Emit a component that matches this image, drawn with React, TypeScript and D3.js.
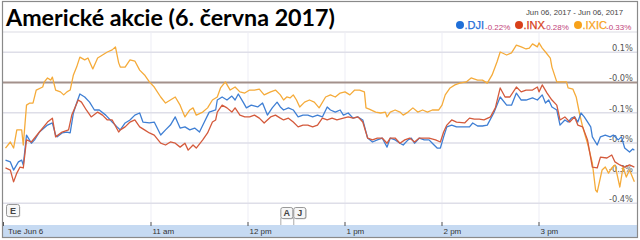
import React from "react";
import * as d3 from "d3";

const title = "Americké akcie (6. června 2017)";
const dateRange = "Jun 06, 2017  -  Jun 06, 2017";
const seriesNames = [".DJI", ".INX", ".IXIC"];
const seriesChanges = ["-0.22%", "-0.28%", "-0.33%"];
const yTicks = [0.1, 0, -0.1, -0.2, -0.3, -0.4];
const yTickLabels = ["0.1%", "-0.0%", "-0.1%", "-0.2%", "-0.3%", "-0.4%"];
const xTickMinutes = [0, 90, 150, 210, 270, 330];
const xTickLabels = ["Tue Jun 6", "11 am", "12 pm", "1 pm", "2 pm", "3 pm"];
const flagMinutes = [0, 170, 178];
const flagLabels = ["E", "A", "J"];

// [minutes since 9:30, % change]
const ixic: [number, number][] = [
  [0,-0.217],[3,-0.197],[5,-0.217],[7,-0.157],[10,-0.157],[11,-0.207],[13,-0.075],[15,-0.068],[17,-0.068],[19,-0.025],
  [23,-0.015],[24,0.002],[26,0.015],[28,0.008],[29,0.018],[31,-0.025],[34,-0.031],[36,-0.041],[38,-0.031],[40,-0.025],
  [42,0.025],[44,0.051],[46,0.084],[49,0.075],[51,0.081],[54,0.045],[57,0.081],[63,0.101],[66,0.108],[68,0.118],
  [70,0.065],[71,0.051],[74,0.051],[77,0.075],[80,0.071],[83,0.041],[86,0.025],[89,0.002],[92,-0.015],[96,-0.048],
  [99,-0.068],[102,-0.058],[105,-0.048],[108,-0.075],[111,-0.114],[114,-0.091],[116,-0.084],[118,-0.108],[122,-0.098],[125,-0.084],
  [128,-0.058],[131,-0.048],[133,-0.018],[136,0.002],[139,-0.025],[142,-0.015],[145,-0.031],[148,-0.035],[151,-0.025],[154,-0.025],
  [157,-0.022],[160,-0.041],[164,-0.031],[167,-0.025],[170,-0.041],[172,-0.058],[174,-0.048],[176,-0.051],[178,-0.041],[180,-0.058],
  [182,-0.081],[185,-0.065],[188,-0.058],[191,-0.065],[194,-0.084],[198,-0.048],[201,-0.041],[204,-0.048],[207,-0.035],[210,-0.031],
  [213,-0.041],[216,-0.025],[219,-0.025],[222,-0.031],[223,-0.084],[225,-0.088],[229,-0.098],[232,-0.101],[235,-0.098],[236,-0.114],
  [238,-0.098],[241,-0.091],[244,-0.098],[246,-0.108],[249,-0.098],[252,-0.084],[255,-0.098],[258,-0.091],[261,-0.098],[264,-0.091],
  [268,-0.091],[270,-0.075],[272,-0.041],[275,-0.018],[278,-0.008],[281,-0.002],[285,0.002],[288,0.015],[292,0.008],[295,0.008],
  [298,-0.002],[301,0.025],[304,0.068],[306,0.101],[310,0.091],[313,0.098],[316,0.124],[319,0.118],[322,0.111],[324,0.114],
  [326,0.128],[329,0.118],[330,0.131],[332,0.114],[334,0.101],[337,0.081],[338,0.051],[341,0.002],[344,0.002],[347,0.002],
  [348,-0.018],[351,-0.022],[353,-0.048],[355,-0.101],[357,-0.147],[360,-0.201],[363,-0.267],[365,-0.356],[366,-0.363],[369,-0.29],
  [371,-0.28],[373,-0.3],[375,-0.283],[377,-0.273],[380,-0.346],[382,-0.28],[384,-0.313],[386,-0.29],[389,-0.329],
];

const dji: [number, number][] = [
  [0,-0.257],[3,-0.263],[5,-0.29],[8,-0.263],[10,-0.257],[11,-0.273],[13,-0.174],[16,-0.201],[18,-0.19],[21,-0.164],
  [26,-0.141],[29,-0.134],[31,-0.174],[32,-0.18],[35,-0.167],[38,-0.164],[40,-0.167],[42,-0.101],[44,-0.068],[46,-0.038],
  [49,-0.048],[52,-0.065],[55,-0.091],[58,-0.091],[62,-0.108],[66,-0.131],[69,-0.147],[71,-0.157],[74,-0.134],[77,-0.124],
  [80,-0.108],[83,-0.101],[85,-0.131],[89,-0.134],[92,-0.131],[96,-0.174],[99,-0.157],[102,-0.141],[105,-0.114],[108,-0.151],
  [111,-0.147],[114,-0.157],[117,-0.151],[120,-0.164],[123,-0.131],[126,-0.098],[130,-0.091],[131,-0.058],[134,-0.048],[137,-0.058],
  [140,-0.045],[142,-0.058],[144,-0.038],[147,-0.065],[149,-0.084],[152,-0.075],[156,-0.081],[159,-0.068],[162,-0.108],[165,-0.084],
  [168,-0.065],[170,-0.081],[172,-0.091],[175,-0.084],[178,-0.091],[181,-0.114],[184,-0.108],[187,-0.108],[190,-0.114],[193,-0.108],
  [196,-0.114],[199,-0.081],[201,-0.091],[204,-0.098],[207,-0.091],[209,-0.108],[212,-0.101],[215,-0.118],[218,-0.114],[221,-0.124],
  [224,-0.184],[227,-0.197],[230,-0.19],[233,-0.184],[236,-0.214],[238,-0.184],[241,-0.19],[244,-0.201],[246,-0.207],[249,-0.19],
  [251,-0.184],[253,-0.201],[256,-0.184],[259,-0.19],[262,-0.19],[264,-0.201],[267,-0.217],[269,-0.217],[271,-0.18],[273,-0.147],
  [276,-0.141],[279,-0.147],[284,-0.147],[287,-0.147],[289,-0.134],[292,-0.144],[295,-0.144],[298,-0.141],[302,-0.101],[306,-0.048],
  [310,-0.075],[313,-0.075],[316,-0.035],[319,-0.058],[322,-0.058],[326,-0.051],[329,-0.058],[332,-0.041],[334,-0.068],[336,-0.058],
  [338,-0.081],[341,-0.091],[343,-0.141],[346,-0.124],[348,-0.131],[350,-0.118],[352,-0.114],[354,-0.131],[356,-0.101],[358,-0.114],
  [362,-0.147],[363,-0.18],[366,-0.207],[368,-0.18],[371,-0.174],[374,-0.18],[376,-0.174],[379,-0.19],[381,-0.18],[383,-0.217],
  [386,-0.23],[388,-0.22],[389,-0.224],
];

const inx: [number, number][] = [
  [0,-0.283],[3,-0.29],[5,-0.329],[7,-0.3],[9,-0.28],[11,-0.283],[13,-0.19],[16,-0.197],[21,-0.164],[26,-0.131],
  [29,-0.118],[31,-0.18],[35,-0.164],[39,-0.157],[41,-0.108],[45,-0.058],[47,-0.065],[50,-0.091],[53,-0.114],[57,-0.098],
  [60,-0.108],[63,-0.124],[66,-0.124],[70,-0.164],[71,-0.157],[74,-0.147],[77,-0.131],[80,-0.124],[83,-0.147],[86,-0.157],
  [89,-0.167],[92,-0.174],[96,-0.201],[99,-0.207],[102,-0.197],[105,-0.201],[108,-0.214],[111,-0.201],[113,-0.224],[116,-0.207],
  [118,-0.217],[122,-0.19],[125,-0.167],[128,-0.131],[130,-0.124],[131,-0.098],[134,-0.075],[137,-0.084],[140,-0.098],[142,-0.084],
  [145,-0.108],[148,-0.114],[151,-0.114],[154,-0.108],[157,-0.118],[160,-0.134],[164,-0.114],[167,-0.108],[170,-0.118],[172,-0.124],
  [175,-0.118],[178,-0.131],[181,-0.147],[184,-0.141],[187,-0.141],[190,-0.147],[193,-0.141],[196,-0.118],[199,-0.124],[202,-0.118],
  [205,-0.124],[209,-0.118],[212,-0.114],[215,-0.118],[218,-0.114],[221,-0.131],[224,-0.184],[227,-0.19],[230,-0.184],[233,-0.184],
  [236,-0.201],[238,-0.184],[241,-0.184],[244,-0.201],[247,-0.19],[250,-0.184],[253,-0.197],[256,-0.184],[259,-0.184],[262,-0.184],
  [266,-0.19],[269,-0.197],[271,-0.164],[273,-0.141],[276,-0.124],[279,-0.131],[284,-0.134],[287,-0.118],[290,-0.121],[293,-0.121],
  [296,-0.124],[300,-0.114],[303,-0.084],[306,-0.018],[309,-0.048],[312,-0.048],[316,-0.015],[319,-0.031],[322,-0.025],[326,-0.025],
  [329,-0.015],[330,-0.031],[332,-0.008],[335,-0.035],[338,-0.058],[341,-0.075],[343,-0.124],[346,-0.114],[349,-0.131],[352,-0.114],
  [354,-0.141],[357,-0.147],[360,-0.19],[363,-0.28],[366,-0.283],[368,-0.247],[372,-0.25],[375,-0.24],[377,-0.263],[380,-0.273],
  [383,-0.28],[386,-0.273],[389,-0.28],
];

const seriesData = [dji, inx, ixic];
const lineColors = ["#3f7fd4", "#d45a3c", "#f5ab3a"];
const dotColors = ["#1f6fd8", "#d8401a", "#f7a21b"];

export default function App() {
  const W = 640, H = 240;
  const x = d3.scaleLinear().domain([0, 390]).range([5.5, 636]);
  const y = d3.scaleLinear().domain([0.1, -0.4]).range([52.3, 203.3]);
  const line = d3.line<[number, number]>().x(d => x(d[0])).y(d => y(d[1]));
  const drawOrder = [2, 0, 1];

  const legendItems = [
    { cx: 460, nameX: 464.5, chX: 485 },
    { cx: 519, nameX: 523.5, chX: 543.5 },
    { cx: 578, nameX: 582.5, chX: 606 },
  ];

  return (
    <svg width={W} height={H} style={{ position: "absolute", left: 0, top: 0, background: "#fff" }}>
      <rect x={0} y={0} width={W} height={H} fill="#fff" />
      <text x={6} y={26} fontFamily="Lato, 'Open Sans', sans-serif" fontWeight={700} fontSize={23.5}
        fill="#000" textLength={329} lengthAdjust="spacingAndGlyphs">{title}</text>
      <text x={623} y={15} textAnchor="end" fontFamily="'Liberation Sans', Arial, sans-serif" fontSize={7.8} fill="#444">{dateRange}</text>
      {seriesNames.map((n, i) => (
        <g key={n}>
          <circle cx={legendItems[i].cx} cy={25} r={4} fill={dotColors[i]} />
          <text x={legendItems[i].nameX} y={28.5} fontFamily="'Liberation Sans', Arial, sans-serif" fontSize={11}
            fill={dotColors[i]} stroke={dotColors[i]} strokeWidth={0.25}>{n}</text>
          <text x={legendItems[i].chX} y={30} fontFamily="'Liberation Sans', Arial, sans-serif" fontSize={8} fill="#c2437a">{seriesChanges[i]}</text>
        </g>
      ))}
      <line x1={3} x2={637} y1={32} y2={32} stroke="#dcdce4" strokeWidth={1.2} />
      {xTickMinutes.slice(1).map(m => (
        <line key={"v" + m} x1={x(m)} x2={x(m)} y1={32} y2={225} stroke="#ededf5" strokeWidth={1} />
      ))}
      {yTicks.map(t => t !== 0 && (
        <line key={"h" + t} x1={3} x2={637} y1={y(t)} y2={y(t)} stroke="#dedee8" strokeWidth={1.5} />
      ))}
      {yTicks.map((t, i) => (
        <text key={"l" + t} x={633} y={y(t) - 1.2} textAnchor="end" fontFamily="'DejaVu Sans', Verdana, sans-serif"
          fontSize={8.3} fill="#555">{yTickLabels[i]}</text>
      ))}
      <line x1={3} x2={637} y1={y(0)} y2={y(0)} stroke="#a3918c" strokeWidth={1.8} />
      {drawOrder.map(i => (
        <path key={"s" + i} d={line(seriesData[i]) || ""} fill="none" stroke={lineColors[i]} strokeWidth={1.3} strokeLinejoin="round" />
      ))}
      {flagMinutes.map((m, i) => {
        const fx = x(m) + (i === 0 ? 0.5 : 0);
        const fy = i === 0 ? 204 : 207;
        const w = i === 0 ? 13 : 12;
        const h = i === 0 ? 12 : 11;
        return (
          <g key={"f" + i}>
            {i > 0 && <line x1={fx + 0.5} x2={fx + 0.5} y1={fy + h} y2={225} stroke="#aaa" strokeWidth={1} />}
            <rect x={fx + 1.2} y={fy + 1.2} width={w} height={h} rx={2} fill="#bbb" />
            <rect x={fx + 0.5} y={fy + 0.5} width={w} height={h} rx={2} fill="#f6f6f6" stroke="#999" strokeWidth={1} />
            <text x={fx + 0.5 + w / 2} y={fy + h - 2} textAnchor="middle" fontFamily="'Liberation Sans', Arial, sans-serif"
              fontWeight={700} fontSize={9} fill="#444">{flagLabels[i]}</text>
          </g>
        );
      })}
      <rect x={3} y={225} width={634} height={12} fill="#c6daf2" />
      {xTickMinutes.map((m, i) => (
        <g key={"xt" + m}>
          <line x1={x(m) - (i === 0 ? 2 : 0)} x2={x(m) - (i === 0 ? 2 : 0)} y1={222} y2={226} stroke="#555" strokeWidth={1} />
          <text x={x(m) + (i === 0 ? 2.5 : 1.5)} y={233.8} fontFamily="'Liberation Sans', Arial, sans-serif" fontSize={8}
            fill="#333">{xTickLabels[i]}</text>
        </g>
      ))}
      <rect x={2.5} y={1.5} width={635} height={236} fill="none" stroke="#8a8a8a" strokeWidth={1.2} />
    </svg>
  );
}
